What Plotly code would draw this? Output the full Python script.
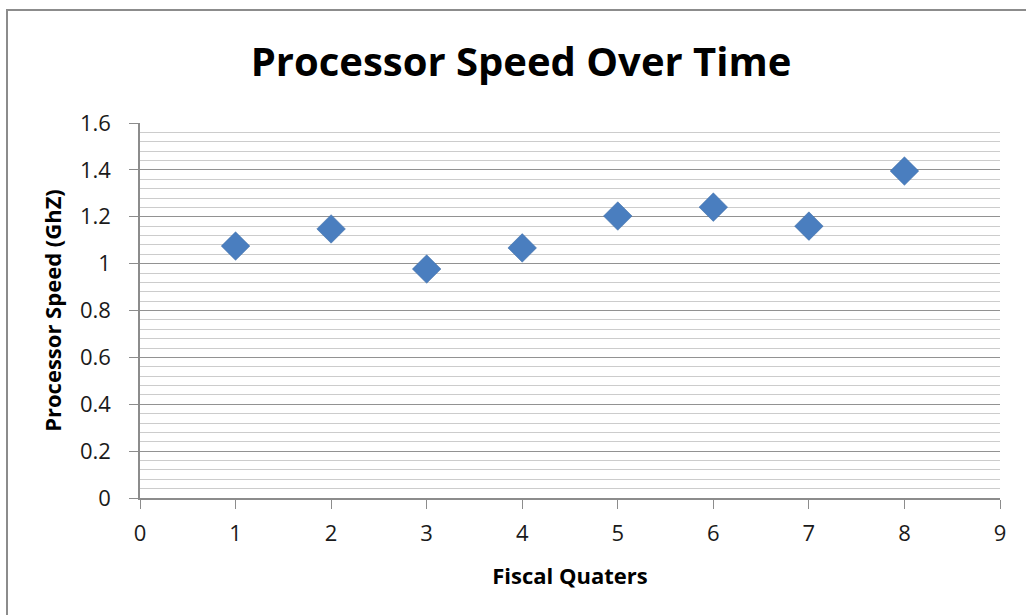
import plotly.graph_objects as go

quarters = [1, 2, 3, 4, 5, 6, 7, 8]
speeds = [1.075, 1.148, 0.977, 1.067, 1.203, 1.241, 1.160, 1.395]

title_text = "Processor Speed Over Time"
x_title = "Fiscal Quaters"
y_title = "Processor Speed (GhZ)"

fig = go.Figure()
fig.add_trace(go.Scatter(
    x=quarters, y=speeds, mode="markers",
    marker=dict(symbol="diamond", size=22, color="#4a7ebf",
                line=dict(color="#3c6aa3", width=0.5)),
    showlegend=False,
))

fig.update_layout(
    width=1026, height=615,
    margin=dict(l=140, r=26, t=123, b=117),
    paper_bgcolor="white", plot_bgcolor="white",
    font=dict(family="Open Sans, sans-serif", color="#1a1a1a"),
    title=dict(text=f"<b>{title_text}</b>", x=521 / 1026, xanchor="center", xref="container",
               y=1 - 62 / 615, yanchor="middle", yref="container",
               font=dict(size=40, color="#000", family="Open Sans, sans-serif")),
    xaxis=dict(range=[0, 9], dtick=1, tick0=0, showgrid=False, zeroline=False,
               showline=True, linecolor="#8c8c8c", linewidth=1.5,
               ticks="outside", ticklen=9, tickcolor="#8c8c8c", ticklabelstandoff=6,
               tickfont=dict(size=22, color="#1a1a1a"),
               title=dict(text=f"<b>{x_title}</b>", font=dict(size=22, color="#000"), standoff=22)),
    yaxis=dict(range=[0, 1.6], dtick=0.2, tick0=0, showgrid=True, gridcolor="#929292",
               gridwidth=1, zeroline=False, showline=True, linecolor="#8c8c8c", linewidth=1.5,
               ticks="outside", ticklen=9, tickcolor="#8c8c8c", ticklabelstandoff=14,
               tickfont=dict(size=22, color="#1a1a1a"),
               minor=dict(dtick=0.04, showgrid=True, gridcolor="#cccccc", gridwidth=1),
               title=dict(text=f"<b>{y_title}</b>", font=dict(size=22, color="#000"), standoff=12)),
    shapes=[dict(type="rect", xref="paper", yref="paper",
                 x0=-133/860, x1=1.1, y0=-0.5, y1=1 + 113/375,
                 line=dict(color="#8c8c8c", width=2), fillcolor="rgba(0,0,0,0)", layer="below")],
)

fig.write_html("out.html", config={"displayModeBar": False},
               post_script="document.body.style.margin='0';document.body.style.padding='0';")
